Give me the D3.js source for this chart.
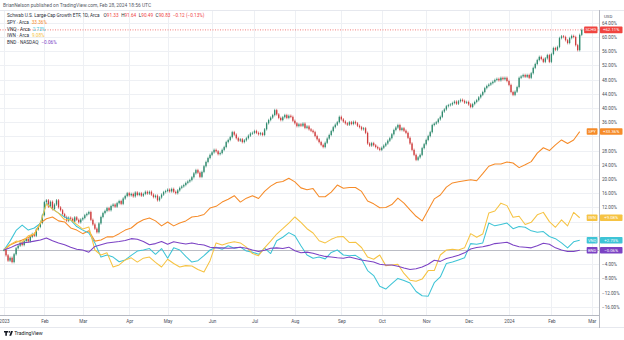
<!DOCTYPE html>
<html><head><meta charset="utf-8">
<script src="https://cdn.jsdelivr.net/npm/d3@7"></script>
<style>
html,body{margin:0;padding:0;background:#fff;}
svg{display:block;font-family:Roboto,"Liberation Sans",sans-serif;}
</style></head><body>
<svg id="c" width="624" height="340"></svg>
<script>
// ---------- data ----------
const headerText = "BrianNelson published on TradingView.com, Feb 28, 2024 18:56 UTC";
const mainName = "Schwab U.S. Large-Cap Growth ETF, 1D, Arca";
const ohlcLabels = ["O", "H", "L", "C"];
const ohlcValues = ["91.33", "91.64", "90.49", "90.83"];
const changeText = "\u22120.12 (\u22120.13%)";

const monthLabels = ["2023","Feb","Mar","Apr","May","Jun","Jul","Aug","Sep","Oct","Nov","Dec","2024","Feb","Mar"];
const monthIdx    = [0, 20, 39, 62, 81, 103, 124, 144, 167, 187, 209, 230, 250, 271, 291];
const yTicks = [-16,-12,-8,-4,0,4,8,12,16,20,24,28,32,36,40,44,48,52,56,60,64];

// SCHG daily closes, % change from first bar
const schgClose = [
 0,-1.5,-3,-2.2,-3.4,-1.2,0.5,1.2,2,1.4,
 2.5,3.1,2.4,3.7,4.5,4,5.8,6.5,7.6,9.8,
 13.5,14,12.2,13.6,11.5,12.8,14,12,11.2,10.1,
 9.3,8.2,9.1,8.8,8,9.2,8.5,7.8,8.6,9,
 9.8,10.2,10.7,8.5,7.2,6,5,7.5,9.3,10.4,
 11,11.8,11.2,12.4,12.8,12.2,13.2,13.8,13,14.5,
 15.2,16,15.4,15.8,15.1,16.2,15.5,16,15.3,15.8,
 16.4,15.9,16.4,15.6,14.9,15.3,14,14.8,15.6,16.3,
 16.6,17,16.5,17.2,16.4,16,16.8,17.5,17.9,18.3,
 18.9,19.3,19.7,20.5,21.6,22.5,21.8,20.6,22,23.6,
 24.8,25.9,26.8,27.5,28.2,27.8,27,27.3,28.2,29,
 30.4,31,31.8,33.2,32.5,31.5,30.8,31.2,30.4,30.9,
 31.5,32.2,32.8,33,33.5,33,32.6,32.9,32.4,34,
 35.7,36.6,37.3,38,39.4,38.2,37.2,36.6,37.4,38,
 37.2,37.8,37.5,36.4,35.7,34.9,35.4,35,35.6,34.4,
 34.8,34,33.6,33.2,32.1,31.2,30.4,29.6,29,30.2,
 31.4,32.4,33.5,34.6,35.3,36,37.5,36.8,36.2,35.7,
 35.3,36,35.5,36.1,35.7,35,34.6,34,34.3,33,
 30,29.4,30.1,29.5,29,28.6,28.2,28.8,29.4,30,
 30.8,31.5,32.6,33.8,34.5,35.2,33.8,34.3,33.6,33,
 31.6,30,28.2,26.8,25.4,26.1,26.8,28.7,29.8,31,
 32.1,33.2,35.2,35.6,36,36.8,37.5,39,39.6,40.5,
 40.8,41,41.4,41.8,41.2,41.9,42.3,42,41.5,41.7,
 41,40.3,41.1,41.7,42.2,43,43.7,44.5,45.6,46.2,
 46.6,47,47.4,47.9,48.2,47.8,48.5,48.1,48.5,47.6,
 46.5,44.5,43.7,44.6,45.9,48.5,48.9,49.3,48.8,49.3,
 48.5,49.8,51.3,52.4,53.5,54.4,53.8,53,54,54.9,
 53,55.2,56.9,56.4,57.2,59.7,60.2,60,59.1,58.3,
 59.7,60.3,60,57.7,56.3,60.6,62
];

// compare series, sampled every 3rd trading day, % change
const lineStep = 3;
const spy = [
 0,1.4,2.2,2.8,3.5,4.5,7.6,8.8,9.3,8.2,
 7.9,6.2,5.6,4.6,5.4,2.5,2.8,3.7,3.7,4.6,
 5.6,6.2,7.6,8.5,9,8.2,6.8,7.9,6.8,7.6,
 8.2,9.3,9.5,10,11.8,12.3,13.5,14.3,15.3,13.5,
 14.6,15.3,14.5,16.5,18,19,19.3,20.2,19.2,17.5,
 17,17.3,15,15,16.3,18.3,17.4,17.6,17.6,16.5,
 13.8,13,11.9,12,12.8,14.6,13.2,11.3,9.5,8.2,
 11.3,14.4,15.5,17.7,18.9,19.2,19.5,19.8,19.5,21.5,
 23.6,24.2,24.2,24.8,24.5,23.2,24,24.9,27.3,28.8,
 28,29.6,31,30,31,33.36
];
const iwn = [
 0,1.5,2.5,2.2,4,4.5,7.5,13,11.5,10.4,
 8.5,8.5,7.2,5.9,6.5,0,-1.4,-0.8,-4.8,-4.2,
 -2.8,-2.2,-3.4,-2.3,-2,-3.5,-4.8,-2.6,-3.8,-4.8,
 -4.4,-4.5,-5.5,-6.2,-3,2,1.4,2,2.3,2,
 0.8,-1,-1.6,0.6,2.5,4.5,6,7.6,9.3,7.8,
 6,4.8,2.6,2,3,3.7,3.8,2.1,2.2,0.7,
 -2,-2.6,-1.4,-4.4,-4.2,-4,-6.6,-8.5,-8.8,-8.2,
 -5.8,-5.8,-1.4,0,0.2,0,0.6,4.6,3.6,4.5,
 10.4,11,13.2,12.5,9.2,9.5,7.2,7.8,9.9,10.6,
 8,6.4,8.5,6.8,10.6,9.08
];
const vnq = [
 0,2.5,5.5,7,5.6,6.2,7.5,13.2,11.6,10.4,
 9.3,8.5,6.6,5.6,4.8,2,-2,-1.4,-2,-3.3,
 -2.8,-1.5,-0.3,0,0.4,-1.2,0.4,-2.3,0.6,0,
 -1.8,-3.4,-3,-1.6,0,0.8,0.2,1.2,0.5,0.8,
 -0.3,-0.6,-1.2,0.5,-1,2.6,3.6,4.9,4,1.2,
 -1.4,-2.3,-2,-2.5,-0.7,0,-1.4,-1.6,-1.5,-2.6,
 -5.8,-7.2,-10.2,-11,-9.5,-8,-8.6,-9.3,-11.7,-12.9,
 -13,-9.2,-7.6,-3.8,-3.4,-2.8,-2.2,1.8,1.6,2,
 7.6,6.8,7.2,7.6,6,6.6,6.4,5.4,5,5.2,
 3.8,3.2,2,0.6,2.3,2.73
];
const bnd = [
 0,0.6,1.4,2,2.2,2.5,2.8,3.4,2.6,2,
 1.5,0.8,0.2,0,-0.6,1,1.5,2,2.2,2.4,
 2.7,3.2,3,2.4,1.5,1.8,2.4,1.6,2.3,2,
 1.7,2,1.6,1.4,0.8,0.6,0.6,0.5,0.6,0.8,
 0.5,0,-0.4,-0.1,0.5,0.6,0.4,0.8,-0.2,-0.8,
 -0.6,-0.9,-1.4,-1.8,-2,-2.2,-2.3,-2,-2.4,-2.8,
 -3.1,-3.4,-4,-4.2,-4.2,-4.6,-5.1,-5.5,-5.3,-4.8,
 -4,-2.9,-3.2,-2.4,-2,-1.5,-0.8,0.3,0.7,0.9,
 1.3,1.8,2,2.2,1.4,0.9,0.8,0.6,1.2,1.9,
 1.6,0.6,0,-0.4,-0.4,-0.06
];

const compareNames  = ["SPY", "VNQ", "IWN", "BND"];
const compareExch   = ["Arca", "Arca", "Arca", "NASDAQ"];
const compareLegend = ["33.36%", "2.73%", "9.08%", "\u22120.06%"];
const compareTags   = ["+33.36%", "+2.73%", "+9.08%", "\u22120.06%"];
const compareData   = [spy, vnq, iwn, bnd];
const mainTag = ["SCHG", "+62.11%"];

// ---------- styles ----------
const COL = { SPY:"#f68b28", VNQ:"#3ec4d6", IWN:"#f6c343", BND:"#7b42c4" };
const UP = "#2f8a6e", DOWN = "#cf3d3d", RED = "#f0443f";
const TXT = "#4a4e59";

// ---------- layout ----------
const PL = 0, PR = 599, PT = 10, PB = 315;
const TAG_H = 6.6;
const x = d3.scaleLinear().domain([0, 290]).range([4, 4 + 290 * 2.02]);
const y = d3.scaleLinear().domain([-16, 64]).range([306.8, 22.8]);
const svg = d3.select("#c");

svg.append("defs").append("clipPath").attr("id","plot")
  .append("rect").attr("x",PL).attr("y",PT).attr("width",PR-PL).attr("height",PB-PT);

// grid
const grid = svg.append("g");
grid.selectAll("line.h").data(yTicks).join("line")
  .attr("x1",PL).attr("x2",PR)
  .attr("y1",d=>Math.round(y(d))+0.5).attr("y2",d=>Math.round(y(d))+0.5)
  .attr("stroke","#eef0f4").attr("stroke-width",1);
grid.selectAll("line.v").data(monthIdx).join("line")
  .attr("x1",d=>Math.round(x(d))+0.5).attr("x2",d=>Math.round(x(d))+0.5)
  .attr("y1",PT).attr("y2",PB)
  .attr("stroke","#eef0f4").attr("stroke-width",1);

// frame lines
svg.append("line").attr("x1",0).attr("x2",624).attr("y1",PT+0.5).attr("y2",PT+0.5).attr("stroke","#e6e8ee");
svg.append("line").attr("x1",0).attr("x2",PR).attr("y1",PB+0.5).attr("y2",PB+0.5).attr("stroke","#b6b9c2");
svg.append("line").attr("x1",0).attr("x2",624).attr("y1",327.5).attr("y2",327.5).attr("stroke","#e6e8ee");
svg.append("line").attr("x1",PR+0.5).attr("x2",PR+0.5).attr("y1",PT).attr("y2",328).attr("stroke","#b6b9c2");

const plot = svg.append("g").attr("clip-path","url(#plot)");

// zero baseline
plot.append("line").attr("x1",PL).attr("x2",PR)
  .attr("y1",Math.round(y(0))+0.5).attr("y2",Math.round(y(0))+0.5)
  .attr("stroke","#b4b7bf").attr("stroke-width",0.9);

// price line of main series
const lastClose = schgClose[schgClose.length-1];
plot.append("line").attr("x1",PL).attr("x2",PR)
  .attr("y1",y(lastClose)).attr("y2",y(lastClose))
  .attr("stroke",RED).attr("stroke-width",0.7).attr("stroke-dasharray","1,1.5");

// candles
const candles = schgClose.map((c,i)=>({i, o: i===0 ? 0 : schgClose[i-1], c}));
const cg = plot.append("g");
cg.selectAll("line.w").data(candles).join("line")
  .attr("x1",d=>x(d.i)).attr("x2",d=>x(d.i))
  .attr("y1",d=>y(Math.max(d.o,d.c))-1.3).attr("y2",d=>y(Math.min(d.o,d.c))+1.3)
  .attr("stroke",d=>d.c>=d.o?UP:DOWN).attr("stroke-width",0.6);
cg.selectAll("rect").data(candles).join("rect")
  .attr("x",d=>x(d.i)-0.65).attr("width",1.3)
  .attr("y",d=>y(Math.max(d.o,d.c)))
  .attr("height",d=>Math.max(0.8, Math.abs(y(d.o)-y(d.c))))
  .attr("fill",d=>d.c>=d.o?UP:DOWN);

// compare lines
const line = d3.line().x((d,k)=>x(k*lineStep)).y(d=>y(d));
compareData.forEach((arr,s)=>{
  plot.append("path").datum(arr)
    .attr("d",line).attr("fill","none")
    .attr("stroke",COL[compareNames[s]]).attr("stroke-width",1.05)
    .attr("stroke-linejoin","round");
});

// tag positions (to hide colliding axis labels)
const tagVals = [lastClose].concat(compareData.map(a=>a[a.length-1]));

// right axis
const yAxis = d3.axisRight(y).tickValues(yTicks).tickSize(0).tickPadding(3)
  .tickFormat(d=> (d<0?"\u2212":"") + Math.abs(d).toFixed(2) + "%");
const ga = svg.append("g").attr("transform",`translate(${PR},0)`).call(yAxis);
ga.select(".domain").remove();
ga.selectAll("text").attr("font-size",4.6).attr("fill",TXT).attr("font-family","Roboto, sans-serif");
ga.selectAll(".tick").filter(d=>tagVals.some(v=>Math.abs(y(v)-y(d)) < TAG_H/2 + 2.6)).remove();
svg.append("text").attr("x",604).attr("y",17.5).text("USD")
  .attr("font-size",4.4).attr("fill",TXT);

// bottom axis
const xAxis = d3.axisBottom(x).tickValues(monthIdx).tickSize(0).tickPadding(5)
  .tickFormat((d,k)=>monthLabels[k]);
const gx = svg.append("g").attr("transform",`translate(0,${PB})`).call(xAxis);
gx.select(".domain").remove();
gx.selectAll("text").attr("font-size",4.6).attr("fill",TXT).attr("font-family","Roboto, sans-serif");

// tags
function tag(val, name, color, textColor){
  const yy = y(val);
  const g = svg.append("g");
  const nameW = name.length * 2.6 + 3;
  g.append("rect").attr("x",597.5-nameW).attr("y",yy-TAG_H/2).attr("width",nameW).attr("height",TAG_H)
    .attr("rx",0.8).attr("fill",color);
  g.append("text").attr("x",597.5-nameW/2).attr("y",yy+1.5).attr("text-anchor","middle")
    .attr("font-size",4.1).attr("fill",textColor).text(name);
}
function valTag(val, label, color, textColor){
  const yy = y(val);
  const g = svg.append("g");
  g.append("rect").attr("x",600).attr("y",yy-TAG_H/2).attr("width",22.5).attr("height",TAG_H)
    .attr("rx",0.8).attr("fill",color);
  g.append("text").attr("x",611.2).attr("y",yy+1.5).attr("text-anchor","middle")
    .attr("font-size",4.3).attr("fill",textColor).text(label);
}
tag(lastClose, mainTag[0], RED, "#fff");
valTag(lastClose, mainTag[1], RED, "#fff");
compareData.forEach((arr,s)=>{
  const v = arr[arr.length-1];
  const c = COL[compareNames[s]];
  tag(v, compareNames[s], c, "#fff");
  valTag(v, compareTags[s], c, "#fff");
});

// header
svg.append("text").attr("x",3).attr("y",7.4).text(headerText)
  .attr("font-size",4.9).attr("fill","#555a66");

// legend
const lg = svg.append("g").attr("font-size",4.7);
const t0 = lg.append("text").attr("x",7).attr("y",17.4);
t0.append("tspan").attr("fill","#2a2e39").text(mainName);
ohlcLabels.forEach((l,k)=>{
  t0.append("tspan").attr("dx",k===0?4:2.5).attr("fill","#2a2e39").text(l);
  t0.append("tspan").attr("fill",RED).text(ohlcValues[k]);
});
t0.append("tspan").attr("dx",2.5).attr("fill",RED).text(changeText);

compareNames.forEach((n,s)=>{
  const t = lg.append("text").attr("x",7).attr("y",24.1 + s*6.65);
  t.append("tspan").attr("fill","#2a2e39").text(n + " \u00b7 " + compareExch[s]);
  t.append("tspan").attr("dx",3).attr("fill",COL[n]).text(compareLegend[s]);
});

// footer logo
const logo = svg.append("g").attr("fill","#131722");
logo.append("path").attr("d","M4 331h4.2v1.4h-1.3v3.4h-1.6v-3.4h-1.3z");
logo.append("circle").attr("cx",9.4).attr("cy",331.9).attr("r",0.8);
logo.append("path").attr("d","M11 331h1.9l-1.7 4.8h-1.9z");
svg.append("text").attr("x",14.2).attr("y",335.4).text("TradingView")
  .attr("font-size",5.2).attr("fill","#131722");
</script>
</body></html>
